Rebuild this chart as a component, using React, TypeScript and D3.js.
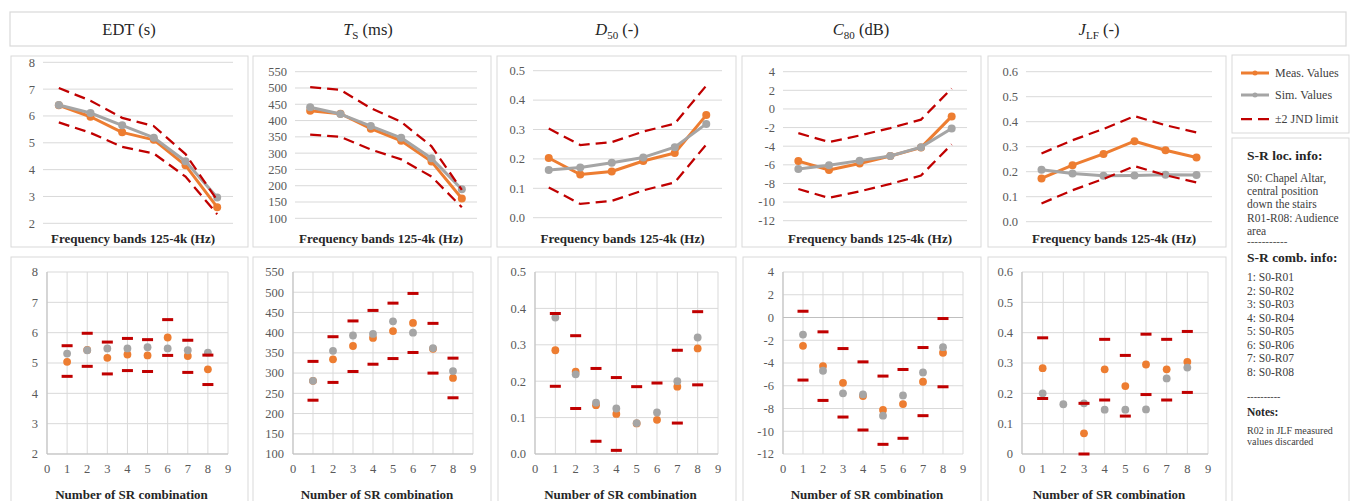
import React from 'react';
import * as d3 from 'd3';

// categories
const bands = ['125', '250', '500', '1k', '2k', '4k'];
const combos = [1, 2, 3, 4, 5, 6, 7, 8];
const comboTicks = [0, 1, 2, 3, 4, 5, 6, 7, 8, 9];

// top row: values per frequency band
const edtMeas = [6.4, 5.97, 5.39, 5.11, 4.16, 2.6];
const edtSim = [6.41, 6.11, 5.65, 5.19, 4.31, 2.96];
const edtUp = [7.04, 6.57, 5.93, 5.62, 4.58, 2.86];
const edtLow = [5.76, 5.37, 4.85, 4.6, 3.74, 2.34];

const tsMeas = [430, 421, 375, 338, 274, 161];
const tsSim = [441, 420, 383, 347, 284, 189];
const tsUp = [503, 494, 438, 396, 321, 187];
const tsLow = [357, 350, 311, 281, 228, 134];

const d50Meas = [0.203, 0.147, 0.157, 0.193, 0.22, 0.349];
const d50Sim = [0.162, 0.171, 0.187, 0.205, 0.24, 0.319];
const d50Up = [0.303, 0.247, 0.257, 0.293, 0.32, 0.449];
const d50Low = [0.103, 0.047, 0.057, 0.093, 0.12, 0.249];

const c80Meas = [-5.6, -6.55, -5.85, -5.05, -4.15, -0.8];
const c80Sim = [-6.45, -6.05, -5.55, -5.05, -4.1, -2.1];
const c80Up = [-2.6, -3.55, -2.85, -2.05, -1.15, 2.2];
const c80Low = [-8.6, -9.55, -8.85, -8.05, -7.15, -3.8];

const jlfMeas = [0.173, 0.226, 0.271, 0.322, 0.286, 0.257];
const jlfSim = [0.208, 0.193, 0.184, 0.185, 0.188, 0.187];
const jlfUp = [0.273, 0.326, 0.371, 0.422, 0.386, 0.357];
const jlfLow = [0.073, 0.126, 0.171, 0.222, 0.186, 0.157];

// bottom row: values per S-R combination
const edtMeasSR = [5.04, 5.43, 5.17, 5.28, 5.25, 5.84, 5.23, 4.79];
const edtSimSR = [5.31, 5.42, 5.48, 5.48, 5.52, 5.48, 5.42, 5.34];
const edtUpSR = [5.57, 5.98, 5.69, 5.81, 5.77, 6.43, 5.75, 5.26];
const edtLowSR = [4.56, 4.89, 4.64, 4.75, 4.72, 5.25, 4.69, 4.29];

const tsMeasSR = [281, 334, 367, 387, 404, 424, 360, 288];
const tsSimSR = [281, 355, 393, 397, 428, 400, 362, 305];
const tsUpSR = [329, 390, 429, 455, 473, 497, 423, 337];
const tsLowSR = [233, 277, 304, 322, 336, 351, 300, 239];

const d50MeasSR = [0.285, 0.226, 0.134, 0.11, 0.084, 0.094, 0.185, 0.29];
const d50SimSR = [0.375, 0.219, 0.141, 0.125, 0.085, 0.114, 0.2, 0.32];
const d50UpSR = [0.386, 0.325, 0.235, 0.21, 0.185, 0.195, 0.285, 0.391];
const d50LowSR = [0.186, 0.125, 0.035, 0.01, null, null, 0.085, 0.19];

const c80MeasSR = [-2.49, -4.27, -5.74, -6.9, -8.13, -7.61, -5.65, -3.1];
const c80SimSR = [-1.5, -4.68, -6.67, -6.76, -8.63, -6.85, -4.83, -2.61];
const c80UpSR = [0.55, -1.26, -2.73, -3.9, -5.15, -4.57, -2.64, -0.09];
const c80LowSR = [-5.5, -7.29, -8.75, -9.89, -11.15, -10.62, -8.63, -6.09];

const jlfMeasSR = [0.283, null, 0.068, 0.279, 0.224, 0.295, 0.279, 0.304];
const jlfSimSR = [0.2, 0.164, 0.167, 0.146, 0.146, 0.147, 0.249, 0.285];
const jlfUpSR = [0.383, null, 0.167, 0.378, 0.325, 0.395, 0.378, 0.404];
const jlfLowSR = [0.183, null, 0.0, 0.178, 0.125, 0.196, 0.178, 0.203];

// y ticks
const edtTicks = [2, 3, 4, 5, 6, 7, 8];
const tsTicks = [100, 150, 200, 250, 300, 350, 400, 450, 500, 550];
const d50Ticks = [0, 0.1, 0.2, 0.3, 0.4, 0.5];
const c80Ticks = [-12, -10, -8, -6, -4, -2, 0, 2, 4];
const jlfTicks = [0, 0.1, 0.2, 0.3, 0.4, 0.5, 0.6];
const edtTickLabels = ['2', '3', '4', '5', '6', '7', '8'];
const tsTickLabels = ['100', '150', '200', '250', '300', '350', '400', '450', '500', '550'];
const d50TickLabels = ['0.0', '0.1', '0.2', '0.3', '0.4', '0.5'];
const c80TickLabels = ['-12', '-10', '-8', '-6', '-4', '-2', '0', '2', '4'];
const jlfTickLabels = ['0.0', '0.1', '0.2', '0.3', '0.4', '0.5', '0.6'];
const jlfTickLabelsSR = ['0', '0.1', '0.2', '0.3', '0.4', '0.5', '0.6'];

const legendLabels = ['Meas. Values', 'Sim. Values', '\u00b12 JND limit'];
const locInfo = ['S0: Chapel Altar,', 'central position', 'down the stairs', 'R01-R08: Audience', 'area'];
const combInfo = combos.map(c => `${c}: S0-R0${c}`);

const ORANGE = '#ed7d31';
const GRAY = '#a5a5a5';
const RED = '#c00000';
const GRID = '#d9d9d9';
const BORDER = '#d9d9d9';
const FONT = "'Liberation Serif', 'Times New Roman', serif";
const TICK_SIZE = 12.5;

const topPanels = [
  { box: [11, 248], plot: [43, 233, 62.3, 223.3], ticks: edtTicks, labels: edtTickLabels, s: [edtMeas, edtSim, edtUp, edtLow] },
  { box: [253, 491], plot: [295, 477, 71.7, 218.3], ticks: tsTicks, labels: tsTickLabels, s: [tsMeas, tsSim, tsUp, tsLow] },
  { box: [497, 736], plot: [533, 722, 70.7, 217.7], ticks: d50Ticks, labels: d50TickLabels, s: [d50Meas, d50Sim, d50Up, d50Low] },
  { box: [742, 981], plot: [783, 967, 71.7, 220.7], ticks: c80Ticks, labels: c80TickLabels, s: [c80Meas, c80Sim, c80Up, c80Low] },
  { box: [988, 1226], plot: [1026, 1212, 71.7, 221.7], ticks: jlfTicks, labels: jlfTickLabels, s: [jlfMeas, jlfSim, jlfUp, jlfLow] },
];

const bottomPanels = [
  { box: [11, 248], plot: [47, 228, 272, 454], ticks: edtTicks, labels: edtTickLabels, s: [edtMeasSR, edtSimSR, edtUpSR, edtLowSR] },
  { box: [253, 491], plot: [293, 473, 272, 454], ticks: tsTicks, labels: tsTickLabels, s: [tsMeasSR, tsSimSR, tsUpSR, tsLowSR] },
  { box: [498, 736], plot: [535, 718, 272, 454], ticks: d50Ticks, labels: d50TickLabels, s: [d50MeasSR, d50SimSR, d50UpSR, d50LowSR] },
  { box: [743, 981], plot: [783, 963, 272, 454], ticks: c80Ticks, labels: c80TickLabels, s: [c80MeasSR, c80SimSR, c80UpSR, c80LowSR] },
  { box: [988, 1226], plot: [1022, 1208, 272, 454], ticks: jlfTicks, labels: jlfTickLabelsSR, s: [jlfMeasSR, jlfSimSR, jlfUpSR, jlfLowSR] },
];

function TopPanel({ p }: { p: any }) {
  const [x0, x1, yTop, yBot] = p.plot;
  const ticks: number[] = p.ticks;
  const x = d3.scalePoint<string>().domain(bands).range([x0, x1]).padding(0.5);
  const y = d3.scaleLinear().domain([ticks[0], ticks[ticks.length - 1]]).range([yBot, yTop]);
  const line = d3.line<number>().x((_, i) => x(bands[i])!).y(d => y(d));
  const [meas, sim, up, low] = p.s;
  return (
    <g>
      <rect x={p.box[0]} y={56} width={p.box[1] - p.box[0]} height={191} fill="#fff" stroke={BORDER} strokeWidth={1} />
      {ticks.map((t, i) => (
        <g key={t}>
          <line x1={x0} x2={x1} y1={y(t)} y2={y(t)} stroke={GRID} strokeWidth={1} />
          <text x={x0 - 8} y={y(t)} dy="0.35em" textAnchor="end" fontSize={TICK_SIZE} fill="#595959">{p.labels[i]}</text>
        </g>
      ))}
      <path d={line(meas)!} fill="none" stroke={ORANGE} strokeWidth={3} strokeLinejoin="round" />
      {meas.map((d: number, i: number) => <circle key={'m' + i} cx={x(bands[i])} cy={y(d)} r={4} fill={ORANGE} />)}
      <path d={line(sim)!} fill="none" stroke={GRAY} strokeWidth={3} strokeLinejoin="round" />
      {sim.map((d: number, i: number) => <circle key={'s' + i} cx={x(bands[i])} cy={y(d)} r={4} fill={GRAY} />)}
      <path d={line(up)!} fill="none" stroke={RED} strokeWidth={2.25} strokeDasharray="11,6" />
      <path d={line(low)!} fill="none" stroke={RED} strokeWidth={2.25} strokeDasharray="11,6" />
      <text x={(x0 + x1) / 2 - 5} y={243} textAnchor="middle" fontSize={13} fontWeight="bold" fill="#262626">Frequency bands 125-4k (Hz)</text>
    </g>
  );
}

function BottomPanel({ p }: { p: any }) {
  const [x0, x1, yTop, yBot] = p.plot;
  const ticks: number[] = p.ticks;
  const x = d3.scaleLinear().domain([0, 9]).range([x0, x1]);
  const y = d3.scaleLinear().domain([ticks[0], ticks[ticks.length - 1]]).range([yBot, yTop]);
  const [meas, sim, up, low] = p.s;
  const cross = ticks[0] < 0 ? 0 : ticks[0];
  return (
    <g>
      <rect x={p.box[0]} y={257} width={p.box[1] - p.box[0]} height={260} fill="#fff" stroke={BORDER} strokeWidth={1} />
      {ticks.map((t, i) => (
        <g key={t}>
          <line x1={x0} x2={x1} y1={y(t)} y2={y(t)} stroke={GRID} strokeWidth={1} />
          <text x={x0 - 9} y={y(t)} dy="0.35em" textAnchor="end" fontSize={TICK_SIZE} fill="#595959">{p.labels[i]}</text>
        </g>
      ))}
      {comboTicks.map(c => (
        <g key={c}>
          <line x1={x(c)} x2={x(c)} y1={yTop} y2={yBot} stroke={GRID} strokeWidth={1} />
          <text x={x(c)} y={yBot + 15} dy="0.35em" textAnchor="middle" fontSize={TICK_SIZE} fill="#595959">{c}</text>
        </g>
      ))}
      <line x1={x0} x2={x1} y1={y(cross)} y2={y(cross)} stroke="#bfbfbf" strokeWidth={1} />
      <line x1={x0} x2={x0} y1={yTop} y2={yBot} stroke="#bfbfbf" strokeWidth={1} />
      {meas.map((d: number | null, i: number) => d == null ? null :
        <circle key={'m' + i} cx={x(combos[i])} cy={y(d)} r={3.9} fill={ORANGE} />)}
      {sim.map((d: number | null, i: number) => d == null ? null :
        <circle key={'s' + i} cx={x(combos[i])} cy={y(d)} r={3.9} fill={GRAY} />)}
      {[...up, ...low].map((d: number | null, i: number) => d == null ? null :
        <rect key={'j' + i} x={x(combos[i % 8]) - 5.5} y={y(d) - 1.5} width={11} height={3} fill={RED} />)}
      <text x={(x0 + x1) / 2 - 6} y={499} textAnchor="middle" fontSize={13} fontWeight="bold" fill="#262626">Number of SR combination</text>
    </g>
  );
}

function Title({ cx, main, sub, unit, italic }: { cx: number; main: string; sub?: string; unit: string; italic?: boolean }) {
  return (
    <text x={cx} y={35} textAnchor="middle" fontSize={16.5} fill="#262626">
      <tspan fontStyle={italic ? 'italic' : 'normal'}>{main}</tspan>
      {sub && <tspan fontSize={11} dy={4}>{sub}</tspan>}
      <tspan dy={sub ? -4 : 0}>{' ' + unit}</tspan>
    </text>
  );
}

export default function App() {
  return (
    <svg width={1354} height={501} style={{ position: 'absolute', left: 0, top: 0, background: '#fff' }} fontFamily={FONT}>
      <rect x={10} y={12} width={1336} height={34} fill="#fff" stroke={BORDER} strokeWidth={1.2} />
      <Title cx={129} main="EDT" unit="(s)" />
      <Title cx={368} main="T" sub="S" unit="(ms)" italic />
      <Title cx={617} main="D" sub="50" unit="(-)" italic />
      <Title cx={861} main="C" sub="80" unit="(dB)" italic />
      <Title cx={1099} main="J" sub="LF" unit="(-)" italic />

      {topPanels.map((p, i) => <TopPanel key={i} p={p} />)}
      {bottomPanels.map((p, i) => <BottomPanel key={i} p={p} />)}

      {/* legend */}
      <rect x={1232} y={55} width={117} height={78} fill="#fff" stroke={BORDER} strokeWidth={1} />
      {legendLabels.map((l, i) => {
        const ly = [73, 95, 119][i];
        return (
          <g key={l}>
            {i < 2 ? (
              <>
                <line x1={1241} x2={1269} y1={ly} y2={ly} stroke={i === 0 ? ORANGE : GRAY} strokeWidth={3} />
                <circle cx={1255} cy={ly} r={2.5} fill={i === 0 ? ORANGE : GRAY} />
              </>
            ) : (
              <line x1={1241} x2={1270} y1={ly} y2={ly} stroke={RED} strokeWidth={2.25} strokeDasharray="11,6" />
            )}
            <text x={1275} y={ly} dy="0.35em" fontSize={12} fill="#404040">{l}</text>
          </g>
        );
      })}

      {/* info box */}
      <rect x={1232} y={138} width={117} height={380} fill="#fff" stroke={BORDER} strokeWidth={1} />
      <text x={1247} y={160} fontSize={13.5} fontWeight="bold" fill="#262626">S-R loc. info:</text>
      {locInfo.map((t, i) => (
        <text key={t} x={1247} y={182 + i * 13.2} fontSize={11.5} fill="#404040">{t}</text>
      ))}
      <text x={1247} y={245} fontSize={11} fill="#404040">-----------</text>
      <text x={1247} y={262} fontSize={13.5} fontWeight="bold" fill="#262626">S-R comb. info:</text>
      {combInfo.map((t, i) => (
        <text key={t} x={1247} y={281 + i * 13.5} fontSize={11.5} fill="#404040">{t}</text>
      ))}
      <text x={1247} y={400} fontSize={10} fill="#404040">----------</text>
      <text x={1247} y={416} fontSize={11.5} fontWeight="bold" fill="#262626">Notes:</text>
      <text x={1247} y={434} fontSize={10} fill="#404040">R02 in JLF  measured</text>
      <text x={1247} y={445} fontSize={10} fill="#404040">values discarded</text>
    </svg>
  );
}
